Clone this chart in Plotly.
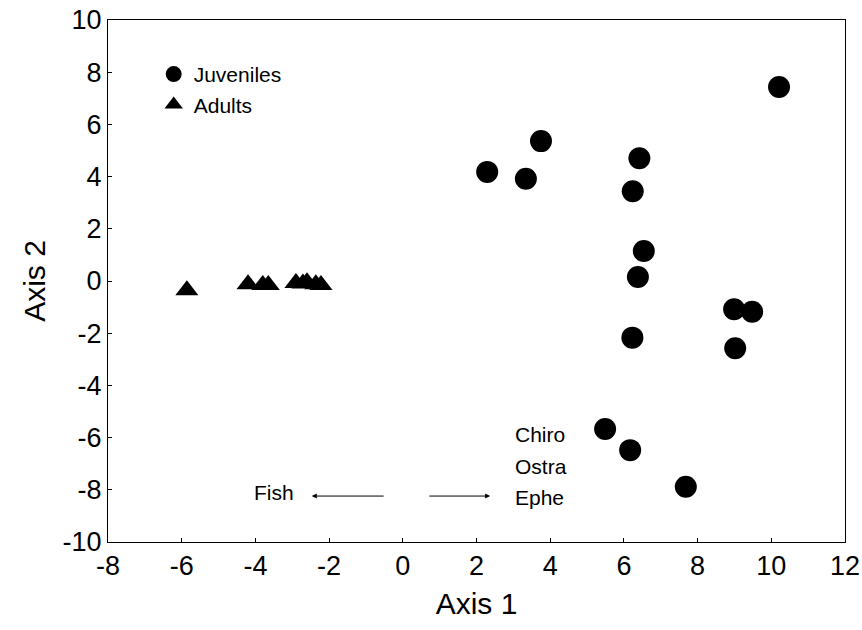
import plotly.graph_objects as go

# Ordination scores (Axis 1, Axis 2)
juv_x = [10.21, 2.29, 3.34, 3.75, 6.42, 6.24, 6.54, 6.38, 6.23, 8.99, 9.48, 9.02, 5.49, 6.17, 7.68]
juv_y = [7.43, 4.18, 3.92, 5.36, 4.70, 3.44, 1.15, 0.15, -2.17, -1.08, -1.18, -2.58, -5.67, -6.48, -7.88]

adu_x = [-5.86, -4.20, -3.80, -3.65, -2.90, -2.71, -2.60, -2.36, -2.22]
adu_y = [-0.35, -0.12, -0.15, -0.15, -0.08, -0.10, -0.05, -0.12, -0.15]

x_ticks = [-8, -6, -4, -2, 0, 2, 4, 6, 8, 10, 12]
y_ticks = [-10, -8, -6, -4, -2, 0, 2, 4, 6, 8, 10]

# Diet-item vectors along Axis 1
fish_arrow = dict(tail=-0.48, head=-2.47, y=-8.24)
inv_arrow = dict(tail=0.68, head=2.37, y=-8.24)
inv_labels = ["Chiro", "Ostra", "Ephe"]
inv_label_y = [-5.9, -7.09, -8.28]

FONT = "Liberation Sans, Arial, sans-serif"

fig = go.Figure()
fig.add_trace(go.Scatter(
    x=juv_x, y=juv_y, mode="markers", name="Juveniles",
    marker=dict(symbol="circle", size=22, color="black", line=dict(width=0)),
))
fig.add_trace(go.Scatter(
    x=adu_x, y=adu_y, mode="markers", name="Adults",
    marker=dict(symbol="triangle-up", size=20, color="black", line=dict(width=0)),
))

annotations = [
    dict(x=fish_arrow["head"], y=fish_arrow["y"], ax=fish_arrow["tail"], ay=fish_arrow["y"],
         xref="x", yref="y", axref="x", ayref="y", text="", showarrow=True,
         arrowhead=2, arrowsize=1, arrowwidth=1, arrowcolor="black"),
    dict(x=inv_arrow["head"], y=inv_arrow["y"], ax=inv_arrow["tail"], ay=inv_arrow["y"],
         xref="x", yref="y", axref="x", ayref="y", text="", showarrow=True,
         arrowhead=2, arrowsize=1, arrowwidth=1, arrowcolor="black"),
    dict(x=-2.9, y=-8.1, xref="x", yref="y", text="Fish", showarrow=False,
         xanchor="right", yanchor="middle", font=dict(family=FONT, size=21, color="black")),
]
for lab, yy in zip(inv_labels, inv_label_y):
    annotations.append(dict(x=3.0, y=yy, xref="x", yref="y", text=lab, showarrow=False,
                            xanchor="left", yanchor="middle",
                            font=dict(family=FONT, size=21, color="black")))

axis_common = dict(
    showgrid=False, zeroline=False, showline=True, linecolor="black", linewidth=1,
    mirror=True, ticks="inside", ticklen=4, tickcolor="black", tickwidth=1,
    tickfont=dict(family=FONT, size=27, color="black"),
)

fig.update_layout(
    width=862, height=630,
    margin=dict(l=108, r=17, t=20, b=88),
    paper_bgcolor="white", plot_bgcolor="white",
    font=dict(family=FONT, color="black"),
    xaxis=dict(range=[-8, 12], tickvals=x_ticks, ticktext=[str(v) for v in x_ticks],
               title=dict(text="Axis 1", font=dict(family=FONT, size=30), standoff=12),
               automargin=False, **axis_common),
    yaxis=dict(range=[-10, 10], tickvals=y_ticks, ticktext=[str(v) for v in y_ticks],
               title=dict(text="Axis 2", font=dict(family=FONT, size=30), standoff=8),
               automargin=False, **axis_common),
    legend=dict(x=0.062, y=0.935, xanchor="left", yanchor="top", bgcolor="rgba(0,0,0,0)",
                font=dict(family=FONT, size=21, color="black"), itemsizing="trace"),
    annotations=annotations,
)

fig.write_html("out.html")
